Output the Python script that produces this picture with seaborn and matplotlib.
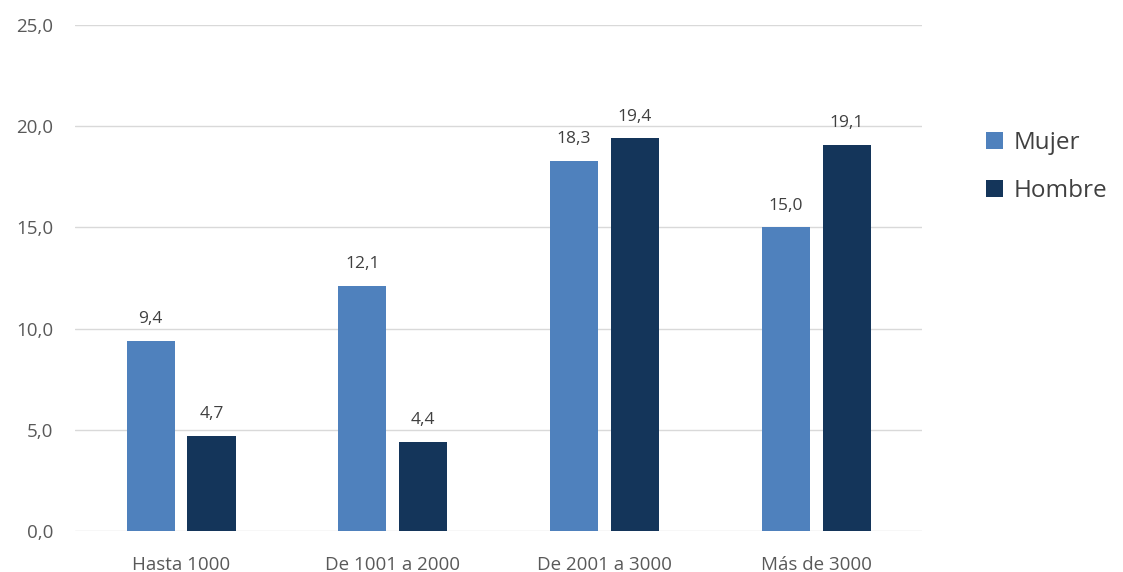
import pandas as pd
import matplotlib.pyplot as plt
import seaborn as sns

# Data
categorias = ['Hasta 1000', 'De 1001 a 2000', 'De 2001 a 3000', 'Más de 3000']
mujer = [9.4, 12.1, 18.3, 15.0]
hombre = [4.7, 4.4, 19.4, 19.1]
series = ['Mujer', 'Hombre']
colores = ['#4F81BD', '#14355A']

df = pd.DataFrame({
    'categoria': categorias * 2,
    'valor': mujer + hombre,
    'sexo': ['Mujer'] * len(mujer) + ['Hombre'] * len(hombre),
})

sns.set_style('white')
plt.rcParams['font.family'] = ['Open Sans', 'DejaVu Sans']

fig = plt.figure(figsize=(11.23, 5.72), dpi=100)
ax = fig.add_axes([0.067, 0.072, 0.754, 0.884])

sns.barplot(data=df, x='categoria', y='valor', hue='sexo', hue_order=series,
            palette=colores, saturation=1, width=0.575, gap=0.21,
            linewidth=0, ax=ax, legend=True)

for cont in ax.containers:
    ax.bar_label(cont, labels=[f'{v:.1f}'.replace('.', ',') for v in cont.datavalues],
                 padding=10, fontsize=12.5, color='#404040')

ax.set_ylim(0, 25)
ax.set_xlim(-0.5, 3.5)
ax.set_yticks([0, 5, 10, 15, 20, 25])
ax.set_yticklabels([f'{t:.1f}'.replace('.', ',') for t in [0, 5, 10, 15, 20, 25]])
ax.grid(axis='y', color='#d9d9d9', linewidth=1)
ax.set_axisbelow(True)
sns.despine(ax=ax, left=True, bottom=True)
ax.tick_params(axis='both', length=0, labelsize=13.5, colors='#595959')
ax.tick_params(axis='y', pad=16)
ax.tick_params(axis='x', pad=18)
ax.set_xlabel('')
ax.set_ylabel('')

leg = ax.legend(loc='upper left', bbox_to_anchor=(0.878, 0.771), bbox_transform=fig.transFigure,
                frameon=False, fontsize=17.5, labelspacing=0.98, handlelength=0.7,
                handleheight=0.7, handletextpad=0.45, borderpad=0, borderaxespad=0)
for t in leg.get_texts():
    t.set_color('#404040')

fig.savefig('out.png', dpi=100)
plt.close(fig)
